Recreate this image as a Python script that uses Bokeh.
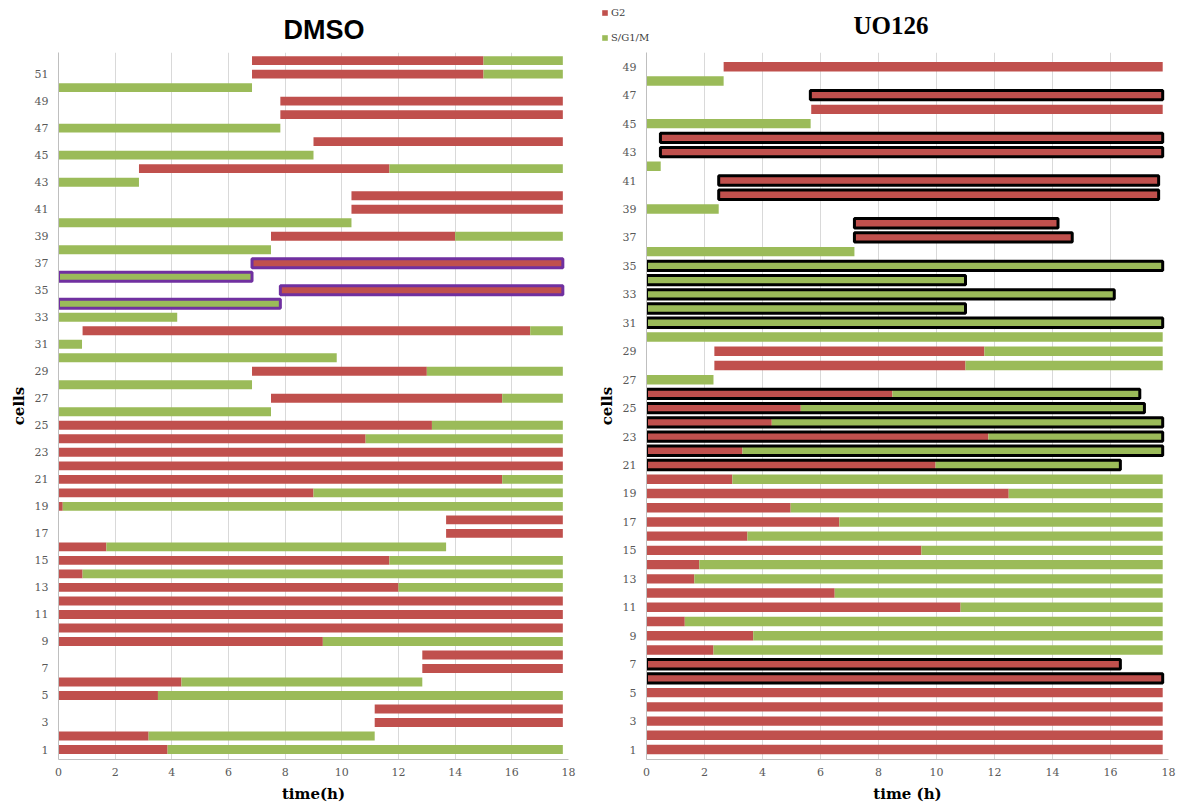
from bokeh.plotting import figure
from bokeh.layouts import row, column
from bokeh.models import (ColumnDataSource, FixedTicker, Legend, LegendItem,
                          Range1d, Label)
from bokeh.embed import file_html
from bokeh.resources import INLINE

N = None

# ---------------- DMSO (cells 1..52) ----------------
dmso_cells = list(range(1, 53))
dmso_g2_start = [0, 0, 11.16, 11.16, 0, 0, 12.84, 12.84, 0, 0,
                 0, 0, 0, 0, 0, 0, 13.68, 13.68, 0, 0,
                 0, 0, 0, 0, 0, N, 7.5, N, 6.83, N,
                 N, 0.85, N, N, 7.83, N, 6.83, N, 7.5, N,
                 10.34, 10.34, N, 2.84, N, 9.0, N, 7.83, 7.83, N,
                 6.83, 6.83]
dmso_g2_end = [3.85, 3.18, 17.8, 17.8, 3.51, 4.34, 17.8, 17.8, 9.33, 17.8,
               17.8, 17.8, 12.0, 0.85, 11.68, 1.69, 17.8, 17.8, 0.15, 9.0,
               15.66, 17.8, 17.8, 10.84, 13.18, N, 15.66, N, 13.0, N,
               N, 16.65, N, N, 17.8, N, 17.8, N, 14.0, N,
               17.8, 17.8, N, 11.68, N, 17.8, N, 17.8, 17.8, N,
               15.0, 15.0]
dmso_sg_start = [3.85, 3.18, N, N, 3.51, 4.34, N, N, 9.33, N,
                 N, N, 12.0, 0.85, 11.68, 1.69, N, N, 0.15, 9.0,
                 15.66, N, N, 10.84, 13.18, 0, 15.66, 0, 13.0, 0,
                 0, 16.65, 0, 0, N, 0, N, 0, 14.0, 0,
                 N, N, 0, 11.68, 0, N, 0, N, N, 0,
                 15.0, 15.0]
dmso_sg_end = [17.8, 11.16, N, N, 17.8, 12.84, N, N, 17.8, N,
               N, N, 17.8, 17.8, 17.8, 13.68, N, N, 17.8, 17.8,
               17.8, N, N, 17.8, 17.8, 7.5, 17.8, 6.83, 17.8, 9.82,
               0.83, 17.8, 4.19, 7.83, N, 6.83, N, 7.5, 17.8, 10.34,
               N, N, 2.84, 17.8, 9.0, N, 7.83, N, N, 6.83,
               17.8, 17.8]
dmso_outlined = [34, 35, 36, 37]

# ---------------- UO126 (cells 1..49) ----------------
uo_cells = list(range(1, 50))
uo_g2_start = [0, 0, 0, 0, 0, 0, 0, 0, 0, 0,
               0, 0, 0, 0, 0, 0, 0, 0, 0, 0,
               0, 0, 0, 0, 0, 0, N, 2.34, 2.34, N,
               N, N, N, N, N, N, 7.17, 7.17, N, 2.49,
               2.49, N, 0.48, 0.48, N, 5.68, 5.65, N, 2.66]
uo_g2_end = [17.8, 17.8, 17.8, 17.8, 17.8, 17.8, 16.34, 2.31, 3.68, 1.32,
             10.83, 6.49, 1.65, 1.82, 9.48, 3.48, 6.65, 4.97, 12.49, 2.96,
             9.97, 3.31, 11.79, 4.32, 5.32, 8.48, N, 11.0, 11.65, N,
             N, N, N, N, N, N, 14.68, 14.19, N, 17.66,
             17.66, N, 17.8, 17.8, N, 17.8, 17.8, N, 17.8]
uo_sg_start = [N, N, N, N, N, N, N, 2.31, 3.68, 1.32,
               10.83, 6.49, 1.65, 1.82, 9.48, 3.48, 6.65, 4.97, 12.49, 2.96,
               9.97, 3.31, 11.79, 4.32, 5.32, 8.48, 0, 11.0, 11.65, 0,
               0, 0, 0, 0, 0, 0, N, N, 0, N,
               N, 0, N, N, 0, N, N, 0, N]
uo_sg_end = [N, N, N, N, N, N, N, 17.8, 17.8, 17.8,
             17.8, 17.8, 17.8, 17.8, 17.8, 17.8, 17.8, 17.8, 17.8, 17.8,
             16.34, 17.8, 17.8, 17.8, 17.17, 17.01, 2.31, 17.8, 17.8, 17.8,
             17.8, 11.0, 16.13, 11.0, 17.8, 7.17, N, N, 2.49, N,
             N, 0.49, N, N, 5.66, N, N, 2.66, N]
uo_outlined = [6, 7, 21, 22, 23, 24, 25, 26, 31, 32, 33, 34, 35,
               37, 38, 40, 41, 43, 44, 47]

time_ticks = [0, 2, 4, 6, 8, 10, 12, 14, 16, 18]
legend_labels = ["G2", "S/G1/M"]

RED = "#C0504D"
GREEN = "#9BBB59"
TICK_FONT = "DejaVu Serif"


def segs(cells, starts, ends):
    ys, l, r = [], [], []
    for c, s, e in zip(cells, starts, ends):
        if s is not None:
            ys.append(c)
            l.append(s)
            r.append(e)
    return ColumnDataSource(dict(y=ys, left=l, right=r))


def outline(cells, outlined, g2s, g2e, sgs, sge):
    ys, l, r = [], [], []
    for i, c in enumerate(cells):
        if c in outlined:
            vals_s = [v for v in (g2s[i], sgs[i]) if v is not None]
            vals_e = [v for v in (g2e[i], sge[i]) if v is not None]
            ys.append(c)
            l.append(min(vals_s))
            r.append(max(vals_e))
    return ColumnDataSource(dict(y=ys, left=l, right=r))


def make_panel(cells, g2s, g2e, sgs, sge, outlined, outline_color,
               width, height, border_left, border_right, border_top,
               y_end, y_start, yticks, xlabel):
    p = figure(width=width, height=height, output_backend="svg",
               toolbar_location=None,
               x_range=Range1d(0, 18), y_range=Range1d(y_start, y_end),
               min_border_left=border_left, min_border_right=border_right,
               min_border_top=border_top, min_border_bottom=45)
    p.outline_line_color = None
    p.background_fill_color = "white"

    p.hbar(y="y", left="left", right="right", height=0.66,
           fill_color=RED, line_color=None, source=segs(cells, g2s, g2e))
    p.hbar(y="y", left="left", right="right", height=0.66,
           fill_color=GREEN, line_color=None, source=segs(cells, sgs, sge))
    p.hbar(y="y", left="left", right="right", height=0.66,
           fill_color=None, line_color=outline_color, line_width=3,
           source=outline(cells, outlined, g2s, g2e, sgs, sge))

    p.xaxis.ticker = FixedTicker(ticks=time_ticks)
    p.yaxis.ticker = FixedTicker(ticks=yticks)
    p.ygrid.grid_line_color = None
    p.xgrid.grid_line_color = "#D9D9D9"
    p.xgrid.grid_line_width = 1
    for ax in (p.xaxis[0], p.yaxis[0]):
        ax.axis_line_color = "#BFBFBF"
        ax.major_tick_line_color = None
        ax.minor_tick_line_color = None
        ax.major_tick_out = 0
        ax.major_tick_in = 0
        ax.major_label_text_font = TICK_FONT
        ax.major_label_text_font_size = "11px"
        ax.major_label_text_color = "#595959"
        ax.axis_label_text_font = TICK_FONT
        ax.axis_label_text_font_style = "bold"
        ax.axis_label_text_font_size = "15px"
        ax.axis_label_text_color = "#000000"
    p.xaxis.major_label_standoff = 8
    p.xaxis.axis_label_standoff = 6
    p.xaxis.axis_label = xlabel
    p.yaxis.major_label_standoff = 10
    p.yaxis.axis_label_standoff = 4
    p.yaxis.axis_label = "cells"
    return p


# Left panel (DMSO)
p1 = make_panel(dmso_cells, dmso_g2_start, dmso_g2_end, dmso_sg_start,
                dmso_sg_end, dmso_outlined, "#7030A0",
                590, 805, 58, 22, 52, 52.6, 0.26,
                list(range(1, 53, 2)), "time(h)")
p1.title.text = "DMSO"
p1.title.align = "left"
p1.title.offset = 225
p1.title.text_font = "Liberation Sans"
p1.title.text_font_style = "bold"
p1.title.text_font_size = "27px"
p1.title.text_color = "#000000"
p1.title.standoff = 16

# Right panel (UO126): header strip holding the legend and the title
strip = figure(width=590, height=52, output_backend="svg",
               toolbar_location=None, x_axis_location=None,
               y_axis_location=None, x_range=Range1d(0, 590),
               y_range=Range1d(0, 52), min_border=0, min_border_left=0,
               min_border_right=0, min_border_top=0, min_border_bottom=0)
strip.frame_align = False
strip.outline_line_color = None
strip.xgrid.visible = False
strip.ygrid.visible = False
# legend proxies (kept below the visible range of the strip)
lg_red = strip.hbar(y=[-100], left=[0], right=[1], height=1,
                    fill_color=RED, line_color=None)
lg_green = strip.hbar(y=[-100], left=[0], right=[1], height=1,
                      fill_color=GREEN, line_color=None)
legend = Legend(items=[LegendItem(label=legend_labels[0], renderers=[lg_red]),
                       LegendItem(label=legend_labels[1],
                                  renderers=[lg_green])],
                location=(11, 5), orientation="vertical",
                glyph_width=7, glyph_height=7, label_standoff=3,
                label_height=20, spacing=5, padding=0, margin=0,
                label_text_font=TICK_FONT, label_text_font_size="10px",
                label_text_color="#404040",
                border_line_color=None, background_fill_alpha=0)
strip.add_layout(legend, "center")
strip.add_layout(Label(x=263, y=27, text="UO126", text_align="left",
                       text_baseline="middle", text_font="Liberation Serif",
                       text_font_style="bold", text_font_size="25px",
                       text_color="#000000"))

p2 = make_panel(uo_cells, uo_g2_start, uo_g2_end, uo_sg_start,
                uo_sg_end, uo_outlined, "#000000",
                590, 753, 56, 12, 0, 50.0, 0.3,
                list(range(1, 50, 2)), "time (h)")

layout = row(p1, column(strip, p2))
open("out.html", "w").write(file_html(layout, INLINE))
